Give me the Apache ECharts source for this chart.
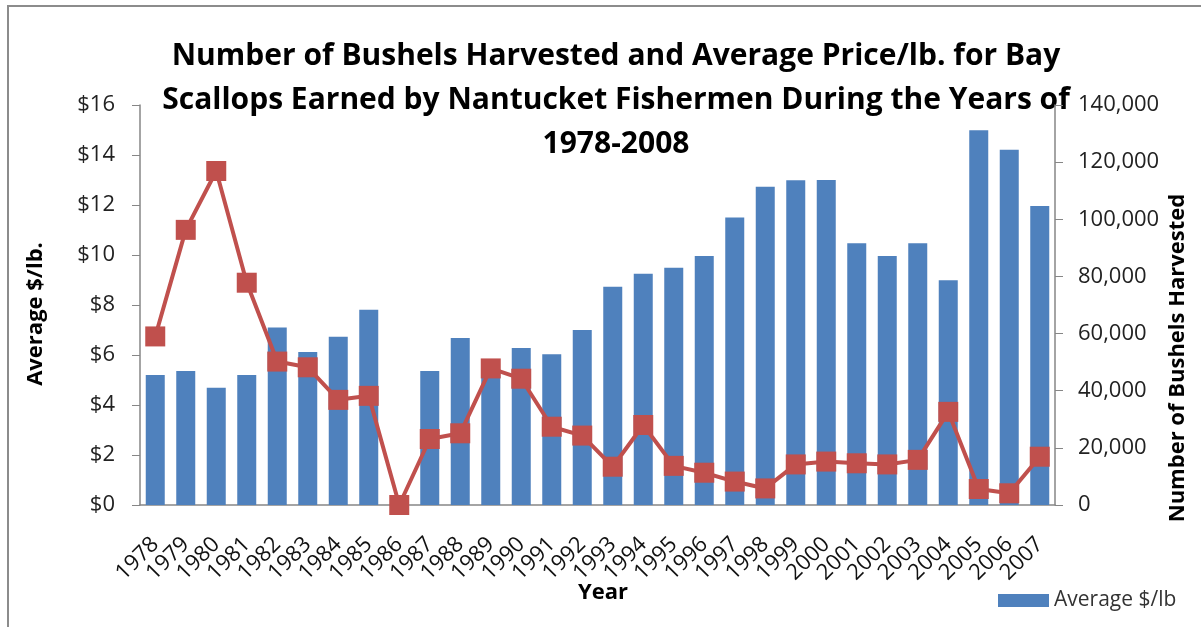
<!DOCTYPE html>
<html>
<head>
<meta charset="utf-8">
<title>Bay Scallops</title>
<script src="https://cdn.jsdelivr.net/npm/echarts@6/dist/echarts.min.js"></script>
<style>
	html, body { margin: 0; padding: 0; background: #fff; }
	#barInfo { width: 1201px; height: 627px; }
</style>
</head>
<body>
<div id="barInfo"></div>
<script>
var years = ['1978', '1979', '1980', '1981', '1982', '1983', '1984', '1985', '1986', '1987',
	'1988', '1989', '1990', '1991', '1992', '1993', '1994', '1995', '1996', '1997',
	'1998', '1999', '2000', '2001', '2002', '2003', '2004', '2005', '2006', '2007'];
// average $/lb (left axis)
var avgPrice = [5.2, 5.36, 4.69, 5.2, 7.1, 6.12, 6.73, 7.81, 0, 5.36,
	6.68, 5.4, 6.28, 6.03, 7.0, 8.73, 9.25, 9.49, 9.96, 11.5,
	12.73, 12.99, 13.0, 10.47, 9.96, 10.47, 8.99, 14.99, 14.21, 11.96];
// bushels harvested (right axis)
var bushels = [59000, 96300, 116900, 77800, 50200, 48200, 36800, 38200, 0, 23100,
	25100, 47800, 44200, 27400, 24300, 13400, 28000, 13700, 11300, 8200,
	5800, 14200, 15200, 14600, 14200, 15800, 32600, 5600, 4100, 16900];
var titleLines = ['Number of Bushels Harvested and Average Price/lb. for Bay',
	'Scallops Earned by Nantucket Fishermen During the Years of',
	'1978-2008'];

initChart();

function initChart(){
	var font = '"Open Sans", sans-serif';
	var axisColor = '#868686';
	var myChart = echarts.init(document.getElementById('barInfo'));
	var option = {
		backgroundColor: '#fff',
		animation: false,
		grid: {
			left: 140,
			right: 146,
			top: 105,
			bottom: 122
		},
		legend: {
			data: ['Average $/lb'],
			left: 993,
			top: 585,
			icon: 'rect',
			itemWidth: 51,
			itemHeight: 13,
			itemGap: 7,
			textStyle: {
				fontFamily: font,
				fontSize: 21,
				color: '#333'
			}
		},
		xAxis: {
			type: 'category',
			data: years,
			axisLine: { lineStyle: { color: axisColor, width: 1.5 } },
			axisTick: { length: 8, lineStyle: { color: axisColor } },
			axisLabel: {
				rotate: 45,
				margin: 36,
				interval: 0,
				fontFamily: font,
				fontSize: 22,
				color: '#111'
			}
		},
		yAxis: [{
			type: 'value',
			min: 0,
			max: 16,
			interval: 2,
			splitLine: { show: false },
			axisLine: { show: true, lineStyle: { color: axisColor, width: 1.5 } },
			axisTick: { show: true, length: 8, lineStyle: { color: axisColor } },
			axisLabel: {
				margin: 25,
				fontFamily: font,
				fontSize: 22,
				color: '#222',
				formatter: function(v){ return '$' + v; }
			}
		}, {
			type: 'value',
			min: 0,
			max: 140000,
			interval: 20000,
			splitLine: { show: false },
			axisLine: { show: true, lineStyle: { color: axisColor, width: 1.5 } },
			axisTick: { show: true, length: 8, lineStyle: { color: axisColor } },
			axisLabel: {
				margin: 23,
				fontFamily: font,
				fontSize: 22,
				color: '#222',
				formatter: function(v){ return v.toLocaleString('en-US'); }
			}
		}],
		series: [{
			name: 'Average $/lb',
			type: 'bar',
			yAxisIndex: 0,
			data: avgPrice,
			barWidth: 19,
			itemStyle: { color: '#4F81BD' }
		}, {
			name: 'Number of Bushels Harvested',
			type: 'line',
			yAxisIndex: 1,
			data: bushels,
			symbol: 'rect',
			symbolSize: 20,
			lineStyle: { color: '#C0504D', width: 4 },
			itemStyle: { color: '#C0504D' }
		}],
		graphic: [{
			// chart border (top + left only, rest is cropped)
			type: 'polyline',
			silent: true,
			shape: { points: [[8, 627], [8, 6], [1201, 6]] },
			style: { stroke: '#8c8c8c', lineWidth: 2, fill: null }
		}, {
			type: 'text',
			x: 616,
			y: 34,
			style: {
				text: titleLines.join('\n'),
				font: 'bold 30px ' + font,
				lineHeight: 44,
				align: 'center',
				verticalAlign: 'top',
				fill: '#000'
			}
		}, {
			type: 'text',
			x: 36,
			y: 314,
			rotation: Math.PI / 2,
			style: {
				text: 'Average $/lb.',
				font: 'bold 22px ' + font,
				align: 'center',
				verticalAlign: 'middle',
				fill: '#000'
			}
		}, {
			type: 'text',
			x: 1178,
			y: 358,
			rotation: Math.PI / 2,
			style: {
				text: 'Number of Bushels Harvested',
				font: 'bold 22px ' + font,
				align: 'center',
				verticalAlign: 'middle',
				fill: '#000'
			}
		}, {
			type: 'text',
			x: 603,
			y: 593,
			style: {
				text: 'Year',
				font: 'bold 22px ' + font,
				align: 'center',
				verticalAlign: 'middle',
				fill: '#000'
			}
		}]
	};
	myChart.setOption(option);
}
</script>
</body>
</html>
